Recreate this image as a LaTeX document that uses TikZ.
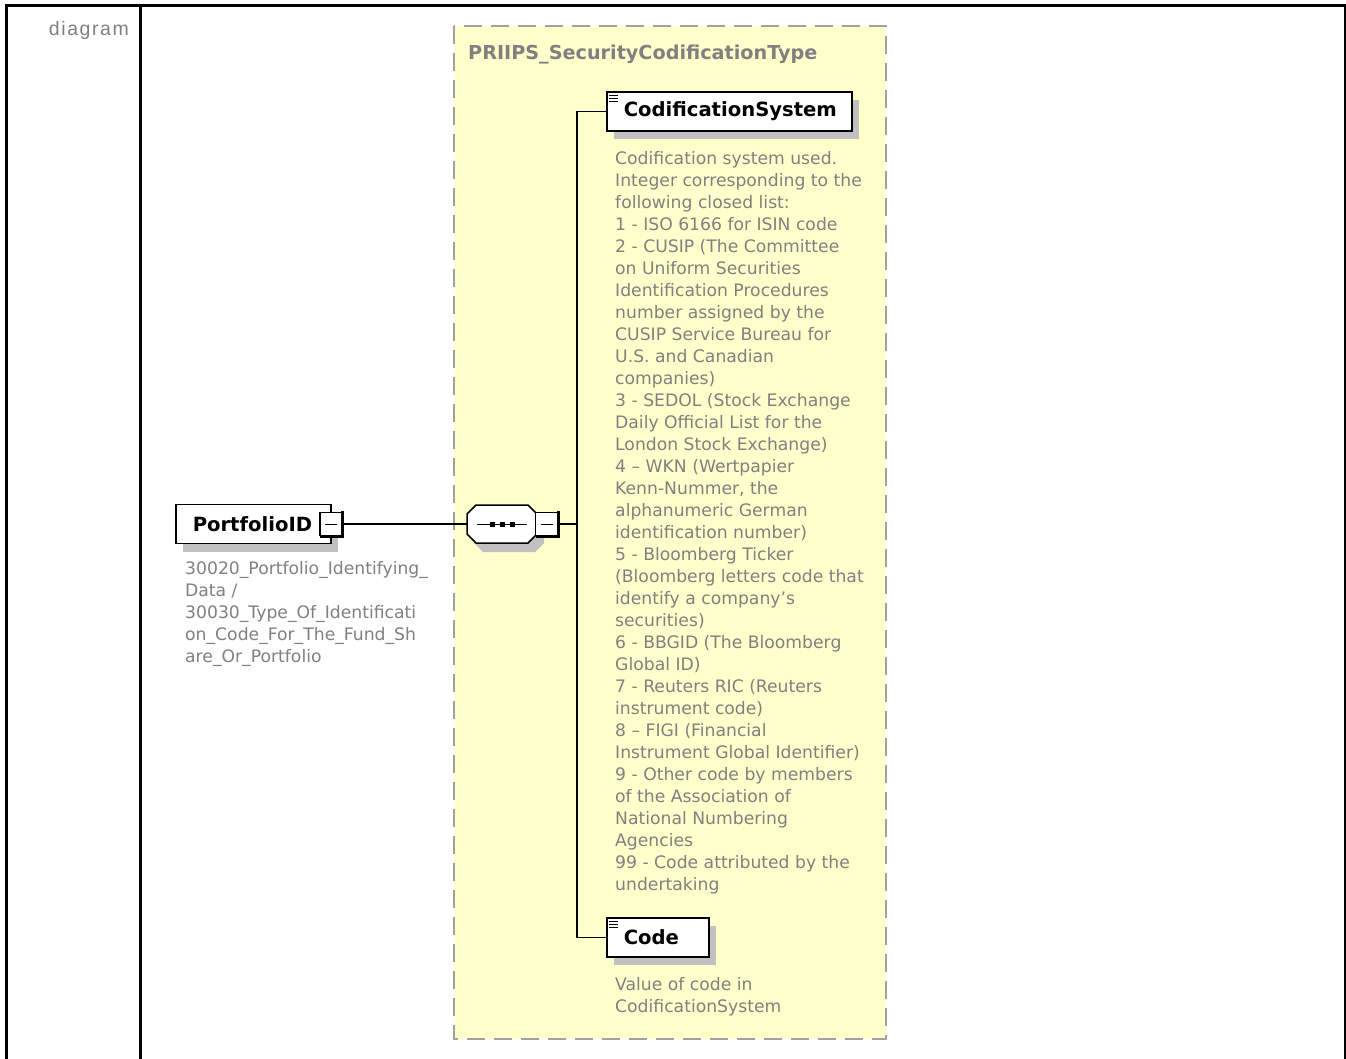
\documentclass[tikz,border=0pt]{standalone}
\usepackage{fontspec}
\setmainfont{DejaVu Sans}
\newfontfamily\rowfont[LetterSpace=8]{Liberation Sans}
\usepackage{tikz}
\usetikzlibrary{calc,shadows}
\definecolor{notegray}{RGB}{128,128,128}
\definecolor{boxyellow}{RGB}{255,255,204}
\definecolor{dashgray}{RGB}{160,160,160}
\definecolor{shadegray}{RGB}{192,192,192}
\newcommand{\listicon}[1]{%
  \foreach \k in {0,1,2}
    \draw[line width=1.3pt] ($(#1.north west)+(3,4+3.2*\k)$) -- ++(9,0);}
\newcommand{\minusmark}[1]{%
  \draw[line width=3pt] ($(#1.south west)+(1,0)$) -| ($(#1.north east)+(0,-1)$);
  \draw[line width=1pt] ($(#1.center)+(-6,0)$) -- ++(12,0);}
\newcommand{\octpath}{(-26,-19) -- (26,-19) -- (35,-10) -- (35,10) -- (26,19)
  -- (-26,19) -- (-35,10) -- (-35,-10) -- cycle}

\begin{document}
\begin{tikzpicture}[x=1pt,y=-1pt,
  elem/.style={draw,line width=1.5pt,fill=white,anchor=west,
    font=\fontsize{19.6}{22}\selectfont\bfseries,minimum height=39pt,
    inner xsep=17pt,align=left,
    drop shadow={shadow xshift=7pt,shadow yshift=-8pt,fill=shadegray,opacity=1}},
  minusbox/.style={draw,line width=1.5pt,fill=white,minimum width=22pt,
    minimum height=23pt,inner sep=0pt},
  note/.style={anchor=north west,inner sep=0pt,align=left,text=notegray,
    font=\fontsize{17.2}{22}\selectfont},
  link/.style={line width=1.3pt}]
  \useasboundingbox (0,0) rectangle (1346,1059);

  % table frame
  \draw[line width=3pt] (6,1059) -- (6,5.5) -- (1346,5.5);
  \draw[line width=3pt] (140,5.5) -- (140,1059);
  \draw[line width=1.5pt] (1345,5.5) -- (1345,1059);
  \node[anchor=base east,inner sep=0pt,text=notegray,
    font=\rowfont\fontsize{19.5}{22}\selectfont] (rowlabel) at (129,36) {diagram};

  % complex type
  \draw[dashgray,line width=2pt,dash pattern=on 18pt off 9pt,fill=boxyellow]
    (454,26) rectangle (886,1039);
  \node[anchor=base west,inner sep=0pt,text=notegray,
    font=\fontsize{19.2}{22}\selectfont\bfseries] (typename) at (468,60)
    {PRIIPS\_SecurityCodificationType};

  % elements
  \node[elem,text width=121pt] (pid) at (175,524) {PortfolioID};
  \node[minusbox] (pidm) at (331,524) {};
  \minusmark{pidm}
  \node[minimum width=70pt,minimum height=38pt,inner sep=0pt] (seq) at (502,524) {};
  \fill[shadegray,shift={($(seq.center)+(7,9)$)}] \octpath;
  \draw[line width=1.5pt,fill=white,shift={(seq.center)}] \octpath;
  \draw[line width=1pt] ($(seq.center)+(-25,0)$) -- ($(seq.center)+(25,0)$);
  \foreach \dx in {-10,0,10}
    \fill ($(seq.center)+(\dx-2.5,-2.5)$) rectangle ++(5,5);
  \node[minusbox] (seqm) at (546.5,524) {};
  \minusmark{seqm}
  \node[elem,text width=211pt] (cs) at (606,111.5) {CodificationSystem};
  \listicon{cs}
  \node[elem,text width=68pt] (code) at (606,937.5) {Code};
  \listicon{code}

  % connectors
  \coordinate (fork) at (577,524);
  \draw[link] (pidm.east) -- (seq.west);
  \draw[link] (seqm.east) -- (fork);
  \draw[link] (cs.west) -| (fork) |- (code.west);

  % annotations
  \node[note] (pidnote) at (185,561) {30020\_Portfolio\_Identifying\_\\Data /\\
    30030\_Type\_Of\_Identificati\\on\_Code\_For\_The\_Fund\_Sh\\are\_Or\_Portfolio};
  \node[note] (csnote) at (615,151) {Codification system used.\\
    Integer corresponding to the\\following closed list:\\
    1 - ISO 6166 for ISIN code\\2 - CUSIP (The Committee\\
    on Uniform Securities\\Identification Procedures\\
    number assigned by the\\CUSIP Service Bureau for\\
    U.S. and Canadian\\companies)\\
    3 - SEDOL (Stock Exchange\\Daily Official List for the\\
    London Stock Exchange)\\4 -- WKN (Wertpapier\\
    Kenn-Nummer, the\\alphanumeric German\\identification number)\\
    5 - Bloomberg Ticker\\(Bloomberg letters code that\\
    identify a company's\\securities)\\
    6 - BBGID (The Bloomberg\\Global ID)\\
    7 - Reuters RIC (Reuters\\instrument code)\\
    8 -- FIGI (Financial\\Instrument Global Identifier)\\
    9 - Other code by members\\of the Association of\\
    National Numbering\\Agencies\\
    99 - Code attributed by the\\undertaking};
  \node[note] (codenote) at (615,977) {Value of code in\\CodificationSystem};
\end{tikzpicture}
\end{document}
